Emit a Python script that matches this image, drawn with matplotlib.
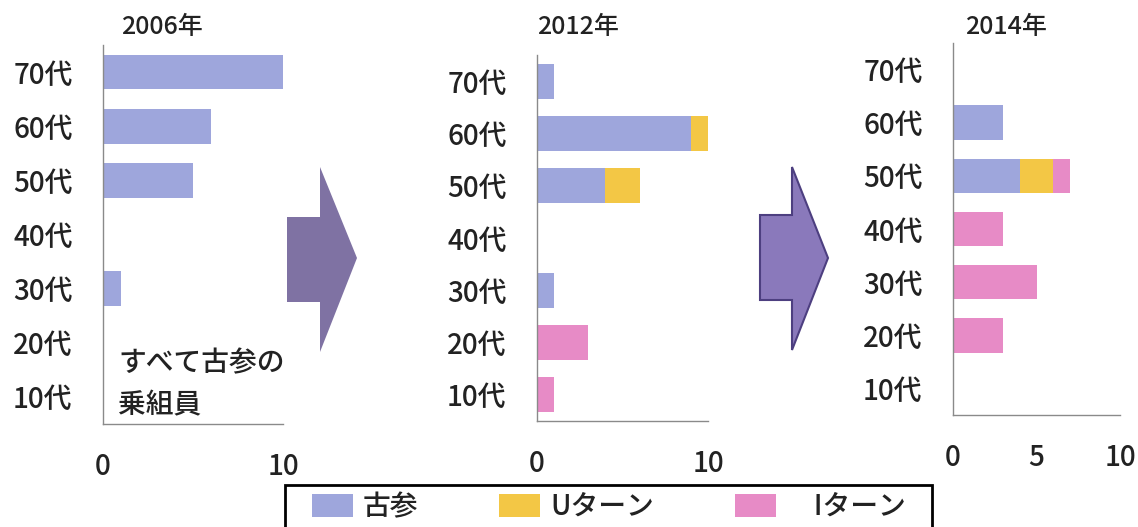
import matplotlib
matplotlib.use("Agg")
import matplotlib.pyplot as plt
from matplotlib.patches import Polygon, Rectangle, Patch

plt.rcParams['font.family'] = ['Noto Sans CJK JP', 'DejaVu Sans']
plt.rcParams['font.weight'] = 'medium'

ages = ["10代", "20代", "30代", "40代", "50代", "60代", "70代"]

furusan_2006 = [0, 0, 1, 0, 5, 6, 10]

furusan_2012 = [0, 0, 1, 0, 4, 9, 1]
uturn_2012 = [0, 0, 0, 0, 2, 1, 0]
iturn_2012 = [1, 3, 0, 0, 0, 0, 0]

furusan_2014 = [0, 0, 0, 0, 4, 3, 0]
uturn_2014 = [0, 0, 0, 0, 2, 0, 0]
iturn_2014 = [0, 3, 5, 3, 1, 0, 0]

years = ["2006年", "2012年", "2014年"]
series_names = ["古参", "Uターン", "　Iターン"]
colors = ["#9ea6dc", "#f3c745", "#e78bc6"]

W, H = 1138, 527
fig = plt.figure(figsize=(W / 100, H / 100), dpi=100)


def fx(px):
    return px / W


def fy(py):
    return 1 - py / H


# axes boxes in pixels: left, top, right, bottom
boxes = [(103, 45, 283, 424), (537, 55, 708, 421), (953, 43, 1120, 415)]
title_x = [162, 578, 1006]
bar_h = [0.64, 0.67, 0.65]
xticks = [[0, 10], [0, 10], [0, 5, 10]]

data = [
    [furusan_2006, [0] * 7, [0] * 7],
    [furusan_2012, uturn_2012, iturn_2012],
    [furusan_2014, uturn_2014, iturn_2014],
]

pos = list(range(len(ages)))
for i, (l, t, r, b) in enumerate(boxes):
    ax = fig.add_axes([fx(l), fy(b), fx(r - l), (b - t) / H])
    left = [0] * 7
    for vals, c in zip(data[i], colors):
        ax.barh(pos, vals, left=left, height=bar_h[i], color=c, linewidth=0)
        left = [a + v for a, v in zip(left, vals)]
    ax.set_xlim(0, 10)
    ax.set_ylim(-0.5, 6.5)
    ax.set_yticks(pos, ages)
    ax.set_xticks(xticks[i])
    ax.tick_params(axis="y", length=0, pad=22, labelsize=20, labelcolor="#222222")
    ax.tick_params(axis="x", length=0, pad=20, labelsize=20, labelcolor="#222222")
    for s in ["top", "right"]:
        ax.spines[s].set_visible(False)
    for s in ["left", "bottom"]:
        ax.spines[s].set_color("#8a8a8a")
        ax.spines[s].set_linewidth(1.0)
    fig.text(fx(title_x[i]), fy(27), years[i], ha="center", va="center",
             fontsize=18, color="#222222")

# note inside the first chart
fig.text(fx(118), fy(363), "すべて古参の", ha="left", va="center", fontsize=20, color="#222222")
fig.text(fx(118), fy(405), "乗組員", ha="left", va="center", fontsize=20, color="#222222")

# block arrows between the charts
arrow1 = [(287, 217), (320, 217), (320, 167), (357, 258), (320, 352), (320, 302), (287, 302)]
arrow2 = [(760, 215), (792, 215), (792, 167), (828, 258), (792, 350), (792, 300), (760, 300)]
fig.add_artist(Polygon([(fx(x), fy(y)) for x, y in arrow1], closed=True,
                       transform=fig.transFigure, facecolor="#7f72a3", edgecolor="none"))
fig.add_artist(Polygon([(fx(x), fy(y)) for x, y in arrow2], closed=True,
                       transform=fig.transFigure, facecolor="#8a79bb", edgecolor="#4d3f80",
                       linewidth=1.5))

# legend with a box running off the bottom edge
fig.add_artist(Rectangle((fx(285), -0.05), fx(932 - 285), fy(485) + 0.05,
                         transform=fig.transFigure, facecolor="none",
                         edgecolor="black", linewidth=2))
handles = [Patch(facecolor=c, edgecolor="none") for c in colors]
fig.legend(handles, series_names, loc="upper left",
           bbox_to_anchor=(fx(312), fy(492)), frameon=False, ncol=3,
           borderpad=0, borderaxespad=0, fontsize=20,
           handlelength=1.48, handleheight=0.9, handletextpad=0.36,
           columnspacing=2.9, labelcolor="#222222")

fig.savefig("out.png", dpi=100)
